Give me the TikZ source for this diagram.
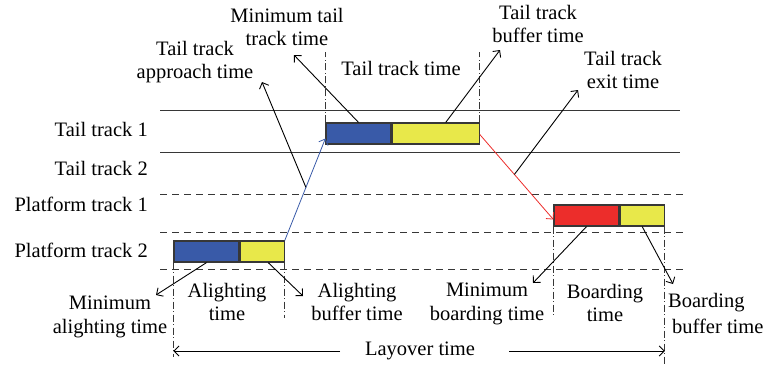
\documentclass[tikz,border=0pt]{standalone}
\usepackage{fontspec}
\setmainfont{Liberation Serif}
\usetikzlibrary{arrows.meta}
\definecolor{tblue}{RGB}{57,90,168}
\definecolor{tyellow}{RGB}{232,232,74}
\definecolor{tred}{RGB}{236,45,43}
\definecolor{tline}{RGB}{55,55,55}
\begin{document}
\begin{tikzpicture}[x=1pt,y=-1pt,
	blk/.style={draw=tline, line width=1.2pt, minimum height=21pt, inner sep=0pt},
	txt/.style={font=\fontsize{20.5}{23.5}\selectfont, align=center, inner sep=0pt},
	note/.style={-{Straight Barb[length=5pt,width=10pt]}, line width=0.9pt},
	guide/.style={tline, line width=0.9pt, dash pattern=on 7pt off 2.5pt on 1pt off 2.5pt},
	track/.style={tline, line width=1pt}]
	\useasboundingbox (0,0) rectangle (765,368);
	
	% tracks
	\draw[track] (160,110) -- (680,110);
	\draw[track] (160,152) -- (680,152);
	\draw[track, dash pattern=on 7pt off 5pt] (160,194) -- (683,194);
	\draw[track, dash pattern=on 7pt off 5pt] (160,232) -- (683,232);
	\draw[track, dash pattern=on 7pt off 5pt] (160,269) -- (683,269);
	\node[txt, anchor=east] (tail1) at (148,129) {Tail track 1};
	\node[txt, anchor=east] (tail2) at (148,168) {Tail track 2};
	\node[txt, anchor=east] (plat1) at (148,204) {Platform track 1};
	\node[txt, anchor=east] (plat2) at (148,250) {Platform track 2};
	
	% occupation blocks
	\node[blk, fill=tblue, minimum width=65pt] (pb) at (206.5,251.5) {};
	\node[blk, fill=tyellow, minimum width=44pt, anchor=west] (py) at (pb.east) {};
	\node[blk, fill=tblue, minimum width=65pt] (tb) at (358.5,133.5) {};
	\node[blk, fill=tyellow, minimum width=87pt, anchor=west] (ty) at (tb.east) {};
	\node[blk, fill=tred, minimum width=65pt] (rb) at (586.5,215.5) {};
	\node[blk, fill=tyellow, minimum width=44pt, anchor=west] (ry) at (rb.east) {};
	
	% time marks
	\draw[guide] (tb.north west) -- ++(0,-70);
	\draw[guide] (ty.north east) -- ++(0,-70);
	\draw[guide] (pb.south west) -- ++(0,94);
	\draw[guide] (py.south east) -- ++(0,55);
	\draw[guide] (rb.south west) -- ++(0,91);
	\draw[guide] (ry.south east) -- ++(0,137);
	
	% moves
	\draw[note, tblue, line width=0.8pt] (py.north east) -- coordinate[pos=0.52] (appr) ([yshift=-5pt]tb.west);
	\draw[note, tred, line width=0.8pt] ([yshift=-1pt]ty.east) -- coordinate[pos=0.47] (exit) ([yshift=-4pt]rb.west);
	
	% labels
	\node[txt] (mintail) at (287,27) {Minimum tail\\track time};
	\node[txt] (approach) at (195,62) {Tail track\\approach time};
	\node[txt] (tailtime) at (401,68) {Tail track time};
	\node[txt] (tailbuf) at (538,24) {Tail track\\buffer time};
	\node[txt] (tailexit) at (623,70) {Tail track\\exit time};
	\node[txt] (minalight) at (110,317) {Minimum\\alighting time};
	\node[txt] (alight) at (227,302) {Alighting\\time};
	\node[txt] (alightbuf) at (357,302) {Alighting\\buffer time};
	\node[txt] (minboard) at (487,304) {Minimum\\boarding time};
	\node[txt] (board) at (605,303) {Boarding\\time};
	\node[txt, align=left, anchor=west, font=\fontsize{20.5}{26}\selectfont] (boardbuf) at (668,313) {Boarding\\\hspace{4pt}buffer time};
	\node[txt] (layover) at (420,351) {Layover time};
	
	\coordinate (mtip) at (294,55);
	\coordinate (atip) at (262,82);
	\coordinate (btip) at (500,50);
	\coordinate (xtip) at (578,90);
	\coordinate (matip) at (156,295);
	\coordinate (abtip) at (303,296);
	\coordinate (mbtip) at (533,283);
	\coordinate (bbtip) at (673,284);
	\coordinate (lay1) at (340,351);
	\coordinate (lay2) at (509,351);
	
	\draw[note] (tb.north) -- (mtip);
	\draw[note] (appr) -- (atip);
	\draw[note] ([xshift=10pt]ty.north) -- (btip);
	\draw[note] (exit) -- (xtip);
	\draw[note] (pb.south) -- (matip);
	\draw[note] ([xshift=6pt]py.south) -- (abtip);
	\draw[note] (rb.south) -- (mbtip);
	\draw[note] (ry.south) -- (bbtip);
	\draw[note] (lay1) -- (pb.south west |- lay1);
	\draw[note] (lay2) -- (ry.south east |- lay2);
\end{tikzpicture}
\end{document}
